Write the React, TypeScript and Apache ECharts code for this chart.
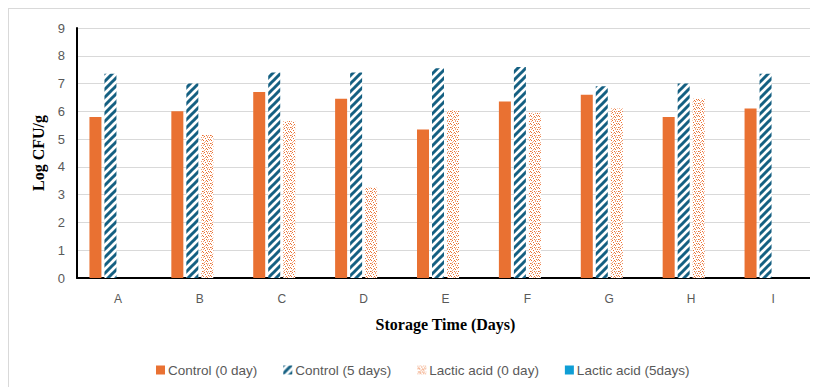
import React, { useEffect, useRef } from "react";
import * as echarts from "echarts";

const categories = ["A", "B", "C", "D", "E", "F", "G", "H", "I"];
const control0 = [5.8, 6.0, 6.7, 6.45, 5.35, 6.35, 6.6, 5.8, 6.1];
const control5 = [7.35, 7.0, 7.4, 7.4, 7.55, 7.6, 6.9, 7.0, 7.35];
const lactic0 = [null, 5.15, 5.65, 3.25, 6.05, 5.95, 6.1, 6.45, null];
const lactic5 = [null, null, null, null, null, null, null, null, null];
const yTicks = [0, 1, 2, 3, 4, 5, 6, 7, 8, 9];

function hatchCanvas() {
  const c = document.createElement("canvas");
  c.width = 8;
  c.height = 8;
  const ctx = c.getContext("2d")!;
  ctx.fillStyle = "#ffffff";
  ctx.fillRect(0, 0, 8, 8);
  ctx.strokeStyle = "#156082";
  ctx.lineWidth = 3;
  ctx.beginPath();
  ctx.moveTo(-2, 10);
  ctx.lineTo(10, -2);
  ctx.moveTo(-10, 10);
  ctx.lineTo(2, -2);
  ctx.moveTo(6, 10);
  ctx.lineTo(18, -2);
  ctx.stroke();
  return c;
}

function dotCanvas() {
  const c = document.createElement("canvas");
  c.width = 8;
  c.height = 8;
  const ctx = c.getContext("2d")!;
  ctx.fillStyle = "#ffffff";
  ctx.fillRect(0, 0, 8, 8);
  ctx.fillStyle = "#e97132";
  const dots = [
    [0, 0], [4, 1], [2, 3], [6, 4], [1, 6], [5, 6], [7, 2], [3, 7], [5, 3], [1, 2],
  ];
  dots.forEach(([x, y]) => ctx.fillRect(x, y, 1, 1));
  ctx.fillStyle = "#f2a57f";
  const dots2 = [[2, 0], [6, 0], [0, 3], [4, 4], [7, 6], [3, 5], [6, 7], [2, 6]];
  dots2.forEach(([x, y]) => ctx.fillRect(x, y, 1, 1));
  return c;
}

export default function App() {
  const ref = useRef<HTMLDivElement>(null);
  useEffect(() => {
    if (!ref.current) return;
    const chart = echarts.init(ref.current, undefined, { renderer: "svg" });
    const hatch = { image: hatchCanvas(), repeat: "repeat" } as any;
    const dots = { image: dotCanvas(), repeat: "repeat" } as any;
    const labelFont = "'Liberation Sans', Arial, sans-serif";
    chart.setOption({
      animation: false,
      backgroundColor: "#ffffff",
      grid: { left: 68, right: 3, top: 19, bottom: 108, containLabel: false },
      legend: {
        left: 147,
        top: 354,
        padding: 0,
        itemWidth: 9,
        itemHeight: 9,
        itemGap: 26,
        icon: "rect",
        textStyle: { fontFamily: labelFont, fontSize: 13.5, color: "#595959", padding: [0, 0, 0, -2] },
        data: ["Control (0 day)", "Control (5 days)", "Lactic acid (0 day)", "Lactic acid (5days)"],
      },
      xAxis: {
        type: "category",
        data: categories,
        name: "Storage Time (Days)",
        nameLocation: "middle",
        nameGap: 38,
        nameTextStyle: {
          fontFamily: "'Liberation Serif', 'Times New Roman', serif",
          fontWeight: "bold",
          fontSize: 16,
          color: "#000000",
        },
        axisLine: { lineStyle: { color: "#000000", width: 2 } },
        axisTick: { show: false },
        axisLabel: { fontFamily: labelFont, fontSize: 12, color: "#595959", margin: 15 },
      },
      yAxis: {
        type: "value",
        min: yTicks[0],
        max: yTicks[yTicks.length - 1],
        interval: 1,
        name: "Log CFU/g",
        nameLocation: "middle",
        nameGap: 30,
        nameTextStyle: {
          fontFamily: "'Liberation Serif', 'Times New Roman', serif",
          fontWeight: "bold",
          fontSize: 16,
          color: "#000000",
        },
        axisLine: { show: true, lineStyle: { color: "#000000", width: 2 } },
        axisTick: { show: false },
        axisLabel: { fontFamily: labelFont, fontSize: 13, color: "#595959", margin: 12 },
        splitLine: { lineStyle: { color: "#d9d9d9", width: 1 } },
      },
      series: [
        {
          name: "Control (0 day)",
          type: "bar",
          data: control0,
          barWidth: 12,
          barGap: "25%",
          itemStyle: { color: "#e97132" },
        },
        {
          name: "Control (5 days)",
          type: "bar",
          data: control5,
          barWidth: 12,
          itemStyle: { color: hatch },
        },
        {
          name: "Lactic acid (0 day)",
          type: "bar",
          data: lactic0,
          barWidth: 12,
          itemStyle: { color: dots },
        },
        {
          name: "Lactic acid (5days)",
          type: "bar",
          data: lactic5,
          barWidth: 12,
          itemStyle: { color: "#0f9ed5" },
        },
      ],
    });
    return () => chart.dispose();
  }, []);
  return (
    <div
      style={{
        width: 812,
        height: 381,
        border: "1px solid #d9d9d9",
        boxSizing: "border-box",
      }}
    >
      <div ref={ref} style={{ width: 808, height: 377 }} />
    </div>
  );
}
